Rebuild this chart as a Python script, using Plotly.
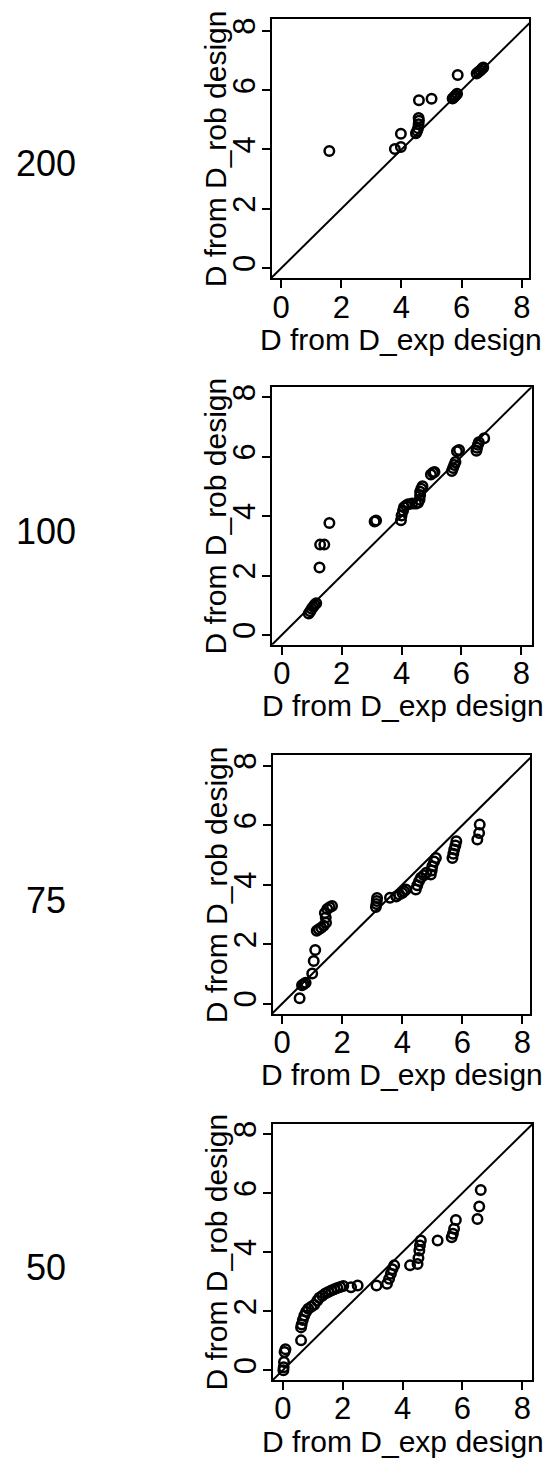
import plotly.graph_objects as go

# ---------------- data ----------------
row_labels = ["200", "100", "75", "50"]
tick_vals = [0, 2, 4, 6, 8]
x_title = "D from D_exp design"
y_title = "D from D_rob design"

x_200 = [1.60, 3.78, 3.98, 3.98, 4.48, 4.52, 4.55, 4.57, 4.58, 4.57, 4.58, 5.00,
         5.70, 5.75, 5.80, 5.85, 5.87, 6.50, 6.56, 6.62, 6.68, 6.72]
y_200 = [3.95, 4.02, 4.08, 4.53, 4.55, 4.62, 4.72, 4.85, 4.97, 5.06, 5.66, 5.71,
         5.72, 5.77, 5.82, 5.88, 6.51, 6.56, 6.61, 6.66, 6.72, 6.76]

x_100 = [0.90, 0.95, 1.00, 1.05, 1.10, 1.15, 1.26, 1.28, 1.42, 1.59, 3.10, 3.15,
         3.98, 4.00, 4.05, 4.08, 4.15, 4.22, 4.35, 4.48, 4.55, 4.60, 4.62, 4.62,
         4.66, 4.70, 4.98, 5.05, 5.10, 5.68, 5.72, 5.76, 5.80, 5.85, 5.92, 6.50,
         6.52, 6.55, 6.58, 6.76]
y_100 = [0.72, 0.80, 0.88, 0.95, 1.02, 1.07, 2.27, 3.04, 3.04, 3.77, 3.82, 3.85,
         3.86, 4.02, 4.18, 4.30, 4.36, 4.40, 4.42, 4.42, 4.45, 4.55, 4.70, 4.82,
         4.92, 5.00, 5.40, 5.46, 5.48, 5.52, 5.62, 5.72, 5.82, 6.18, 6.22, 6.20,
         6.30, 6.40, 6.48, 6.62]

x_75 = [0.58, 0.66, 0.72, 0.78, 1.00, 1.05, 1.10, 1.15, 1.22, 1.30, 1.38, 1.46,
        1.45, 1.42, 1.50, 1.58, 1.66, 3.12, 3.14, 3.15, 3.16, 3.59, 3.80, 3.90,
        4.00, 4.06, 4.12, 4.45, 4.50, 4.56, 4.62, 4.72, 4.80, 4.95, 4.98, 5.00,
        5.06, 5.12, 5.67, 5.70, 5.73, 5.77, 5.80, 6.50, 6.56, 6.58]
y_75 = [0.18, 0.62, 0.66, 0.70, 1.01, 1.43, 1.80, 2.45, 2.50, 2.55, 2.62, 2.72,
        2.90, 3.05, 3.18, 3.24, 3.28, 3.25, 3.35, 3.45, 3.55, 3.56, 3.60, 3.67,
        3.72, 3.78, 3.84, 3.84, 3.98, 4.12, 4.23, 4.32, 4.40, 4.34, 4.48, 4.62,
        4.78, 4.90, 4.90, 5.04, 5.18, 5.32, 5.46, 5.52, 5.74, 6.02]

x_50 = [0.02, 0.03, 0.04, 0.06, 0.09, 0.61, 0.61, 0.63, 0.67, 0.72, 0.78, 0.85,
        0.95, 1.05, 1.15, 1.22, 1.32, 1.42, 1.52, 1.62, 1.72, 1.82, 1.92, 2.02,
        2.28, 2.50, 3.13, 3.48, 3.55, 3.61, 3.66, 3.72, 4.25, 4.50, 4.53, 4.56,
        4.58, 4.61, 5.17, 5.64, 5.68, 5.72, 5.78, 6.50, 6.56, 6.61]
y_50 = [0.00, 0.10, 0.28, 0.62, 0.71, 1.01, 1.45, 1.55, 1.70, 1.85, 1.98, 2.08,
        2.15, 2.22, 2.35, 2.45, 2.52, 2.60, 2.65, 2.70, 2.74, 2.78, 2.82, 2.85,
        2.81, 2.87, 2.87, 2.93, 3.10, 3.27, 3.42, 3.55, 3.55, 3.60, 3.80, 4.05,
        4.22, 4.39, 4.39, 4.50, 4.62, 4.79, 5.09, 5.12, 5.54, 6.10]

panels_x = [x_200, x_100, x_75, x_50]
panels_y = [y_200, y_100, y_75, y_50]

# ---------------- layout geometry (px) ----------------
W, H = 555, 1464
boxes = [  # left, right, top, bottom
    (272, 530, 16, 276),
    (272, 533, 385, 643),
    (273, 531, 754, 1013),
    (273, 533, 1123, 1380),
]
x_ranges = [(-0.322, 8.242), (-0.343, 8.357), (-0.323, 8.256), (-0.343, 8.323)]
y_ranges = [(-0.347, 8.40), (-0.326, 8.335), (-0.346, 8.346), (-0.338, 8.348)]
row_label_y = [161, 530, 899, 1267]

FONT = "Liberation Sans, Arial, Helvetica, sans-serif"

fig = go.Figure()
layout = dict(
    width=W, height=H,
    margin=dict(l=0, r=0, t=0, b=0),
    paper_bgcolor="white", plot_bgcolor="white",
    showlegend=False,
    font=dict(family=FONT, color="black", size=28),
)
annotations = []

for i in range(4):
    l, r, t, b = boxes[i]
    xa = "x" if i == 0 else f"x{i+1}"
    ya = "y" if i == 0 else f"y{i+1}"
    xkey = "xaxis" if i == 0 else f"xaxis{i+1}"
    ykey = "yaxis" if i == 0 else f"yaxis{i+1}"
    common = dict(
        showline=True, linecolor="black", linewidth=2, mirror=True,
        ticks="outside", ticklen=8, tickwidth=2, tickcolor="black",
        tickvals=tick_vals, showgrid=False, zeroline=False,
        tickfont=dict(family=FONT, size=31, color="black"),
    )
    layout[xkey] = dict(common, domain=[l / W, r / W], range=list(x_ranges[i]),
                        anchor=ya, ticklabelstandoff=-8)
    layout[ykey] = dict(common, domain=[1 - b / H, 1 - t / H], range=list(y_ranges[i]),
                        anchor=xa, tickangle=-90, ticklabelstandoff=-6)

    # identity line (abline y = x)
    fig.add_trace(go.Scatter(x=[-1, 9], y=[-1, 9], mode="lines",
                             line=dict(color="black", width=2),
                             xaxis=xa, yaxis=ya, hoverinfo="skip"))
    fig.add_trace(go.Scatter(x=panels_x[i], y=panels_y[i], mode="markers",
                             marker=dict(symbol="circle-open", size=9.5,
                                         color="black", line=dict(width=2.5, color="black")),
                             xaxis=xa, yaxis=ya))

    # axis titles
    annotations.append(dict(text=x_title, xref="paper", yref="paper",
                            x=((l + r) / 2 + 1) / W, y=1 - (b + 61) / H,
                            xanchor="center", yanchor="middle", showarrow=False,
                            font=dict(family=FONT, size=30, color="black")))
    annotations.append(dict(text=y_title, xref="paper", yref="paper",
                            x=(l - 56) / W, y=1 - ((t + b) / 2) / H,
                            xanchor="center", yanchor="middle", showarrow=False,
                            textangle=-90,
                            font=dict(family=FONT, size=30, color="black")))
    # row label
    annotations.append(dict(text=row_labels[i], xref="paper", yref="paper",
                            x=46 / W, y=1 - row_label_y[i] / H,
                            xanchor="center", yanchor="middle", showarrow=False,
                            font=dict(family=FONT, size=36, color="black")))

layout["annotations"] = annotations
fig.update_layout(**layout)
fig.write_html("out.html")
